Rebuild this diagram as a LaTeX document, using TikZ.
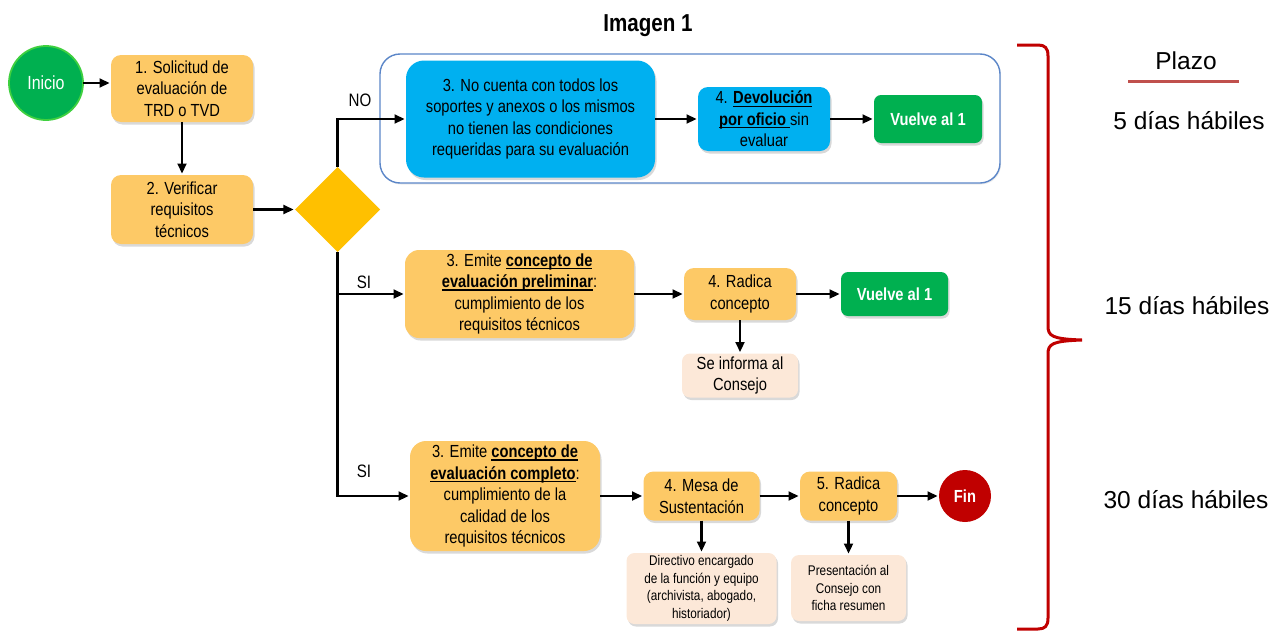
\documentclass[tikz,border=0pt]{standalone}
\usepackage{fontspec}
\newfontfamily\nar{Liberation Sans}[FakeStretch=0.84]
\newfontfamily\reg{Liberation Sans}
\usetikzlibrary{shapes.geometric,arrows.meta,shadows}
\definecolor{org}{HTML}{FDC966}
\definecolor{dmd}{HTML}{FFC000}
\definecolor{cyanb}{HTML}{00B0F0}
\definecolor{grn}{HTML}{00B050}
\definecolor{grnline}{HTML}{3FD03F}
\definecolor{redd}{HTML}{C00000}
\definecolor{peach}{HTML}{FCE8D8}
\definecolor{frameblue}{HTML}{5B86C8}
\definecolor{plazored}{HTML}{C0504D}
\newcommand\myul[1]{\setbox0\hbox{#1}\rlap{\rule[-3pt]{\wd0}{1.3pt}}\box0}
\begin{document}
\begin{tikzpicture}[x=1pt,y=-1pt,
  every node/.style={inner sep=0pt,outer sep=0pt},
  shd/.style={drop shadow={shadow xshift=1.5pt,shadow yshift=-2.5pt,opacity=0.25,fill=black!60}},
  base/.style={rectangle,align=center,font=\nar\fontsize{17.5}{21.5}\selectfont,shd},
  obox/.style={base,fill=org,rounded corners=10pt},
  bbox/.style={base,fill=cyanb,rounded corners=10pt},
  gbox/.style={base,fill=grn,rounded corners=7pt,text=white,font=\nar\bfseries\fontsize{17.5}{21.5}\selectfont},
  pbox/.style={base,fill=peach,rounded corners=8pt},
  lbl/.style={font=\nar\fontsize{18}{21.5}\selectfont},
  plz/.style={font=\reg\fontsize{24.5}{29}\selectfont},
  arr/.style={line width=2.2pt,-{Triangle[length=10pt,width=9pt]},shorten >=1.5pt},
  ln/.style={line width=2.2pt}
]
\useasboundingbox (0,0) rectangle (1274,632);

% title
\node[font=\nar\bfseries\fontsize{24.5}{29}\selectfont] (title) at (648,26) {Imagen 1};

% group frame
\node[draw=frameblue,line width=1.4pt,rounded corners=20pt,minimum width=620pt,minimum height=129pt,fill=white,
      drop shadow={shadow xshift=1pt,shadow yshift=-1.5pt,opacity=0.15,fill=black!50}] (grp) at (690,118.5) {};

% start
\node[circle,fill=grn,draw=grnline,line width=1.8pt,minimum size=74pt,text=white,font=\nar\fontsize{19}{22}\selectfont] (ini) at (46,83) {Inicio};

\node[obox,minimum width=142pt,minimum height=67pt] (b1) at (182,88.5) {1. Solicitud de\\evaluación de\\TRD o TVD};
\node[obox,minimum width=142pt,minimum height=69pt] (b2) at (182,209.5) {2. Verificar\\requisitos\\técnicos};
\node[diamond,aspect=1,fill=dmd,minimum width=85pt,minimum height=85pt] (dia) at (337.5,209.5) {};

% row A
\node[bbox,rounded corners=18pt,minimum width=249pt,minimum height=117pt] (b3a) at (530.5,119)
  {3. No cuenta con todos los\\soportes y anexos o los mismos\\no tienen las condiciones\\requeridas para su evaluación};
\node[bbox,minimum width=132pt,minimum height=64pt] (b4a) at (764,119)
  {4. \myul{\textbf{Devolución}}\\\myul{\textbf{por oficio }}sin\\evaluar};
\node[gbox,minimum width=108pt,minimum height=48pt] (ga) at (928,119) {Vuelve al 1};

% row B
\node[obox,rounded corners=14pt,minimum width=229pt,minimum height=88pt] (b3b) at (519.5,294)
  {3. Emite \myul{\textbf{concepto de}}\\\myul{\textbf{evaluación preliminar}}:\\cumplimiento de los\\requisitos técnicos};
\node[obox,minimum width=112pt,minimum height=52pt] (b4b) at (740,294) {4. Radica\\concepto};
\node[gbox,minimum width=107pt,minimum height=44pt] (gb) at (894.5,294) {Vuelve al 1};
\node[pbox,minimum width=116pt,minimum height=44pt] (inf) at (740,375.5) {Se informa al\\Consejo};

% row C
\node[obox,rounded corners=16pt,minimum width=190pt,minimum height=110pt] (b3c) at (505,496)
  {3. Emite \myul{\textbf{concepto de}}\\\myul{\textbf{evaluación completo}}:\\cumplimiento de la\\calidad de los\\requisitos técnicos};
\node[obox,minimum width=116pt,minimum height=49pt] (b4c) at (701.5,496) {4. Mesa de\\Sustentación};
\node[obox,minimum width=97pt,minimum height=49pt] (b5c) at (848.5,496) {5. Radica\\concepto};
\node[circle,fill=redd,minimum size=52pt,text=white,font=\nar\bfseries\fontsize{17.5}{21}\selectfont] (fin) at (965,496) {Fin};
\node[pbox,minimum width=150pt,minimum height=71pt,font=\nar\fontsize{14}{17.5}\selectfont] (dir) at (701.5,588.5)
  {Directivo encargado\\de la función y equipo\\(archivista, abogado,\\historiador)};
\node[pbox,minimum width=115pt,minimum height=66pt,font=\nar\fontsize{14}{17.5}\selectfont] (pres) at (848.5,588)
  {Presentación al\\Consejo con\\ficha resumen};

% connectors
\draw[arr] (ini) -- (ini -| b1.west);
\draw[arr] (b1) -- (b2);
\draw[arr] (b2) -- (dia);
\draw[arr] (dia.north) |- (b3a.west);
\draw[arr] (dia.south) |- (b3b.west);
\draw[arr] (dia.south) |- (b3c.west);
\draw[arr] (b3a) -- (b4a);
\draw[arr] (b4a) -- (ga);
\draw[arr] (b3b) -- (b4b);
\draw[arr] (b4b) -- (gb);
\draw[arr] (b4b) -- (inf);
\draw[arr] (b3c) -- (b4c);
\draw[arr] (b4c) -- (b5c);
\draw[arr] (b5c) -- (fin);
\draw[arr] (b4c) -- (dir);
\draw[arr] (b5c) -- (pres);

% branch labels
\node[lbl] (no) at (360,100) {NO};
\node[lbl] (si1) at (364,282) {SI};
\node[lbl] (si2) at (364,471) {SI};

% brace
\coordinate (brtop) at (1017,45);
\coordinate (brtip) at (1082,340);
\coordinate (brbot) at (1017,629);
\draw[redd,line width=3pt] (brtop) -- (1038,45) .. controls (1045,45) and (1048,48) .. (1048,56)
  -- (1048,326) .. controls (1048,336) and (1052,339) .. (brtip)
  .. controls (1052,341) and (1048,344) .. (1048,354)
  -- (1048,618) .. controls (1048,626) and (1045,629) .. (1038,629) -- (brbot);

% plazo
\node[plz] (plazo) at (1186,61) {Plazo};
\coordinate (ulA) at (1128,81);
\coordinate (ulB) at (1239,81);
\draw[plazored,line width=3pt] (ulA) -- (ulB);
\node[plz] (p5) at (1189,121) {5 días hábiles};
\node[plz] (p15) at (1187,306) {15 días hábiles};
\node[plz] (p30) at (1186,500) {30 días hábiles};
\end{tikzpicture}
\end{document}
